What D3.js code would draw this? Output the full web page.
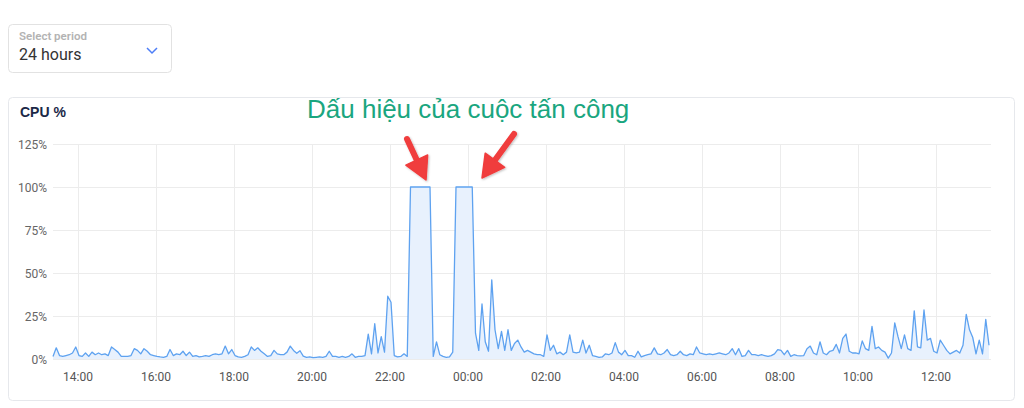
<!DOCTYPE html>
<html>
<head>
<meta charset="utf-8">
<script src="https://cdn.jsdelivr.net/npm/d3@7"></script>
<style>
  html, body { margin: 0; padding: 0; background: #fff; }
  svg { display: block; }
</style>
</head>
<body>
<svg id="chart" width="1024" height="408"></svg>
<script>
// ---- data ----
const startTime = "2024-01-01T13:21:30Z";   // first sample
const stepMinutes = 5;                        // sample interval
const cpuValues = [
  1.5, 6.5, 2, 1.5, 2, 2.5, 3.5, 7, 2, 1.5,
  3.5, 1.5, 4, 2.5, 3.5, 2.5, 3, 2, 7, 5.5,
  4, 1.5, 1.5, 1.5, 2, 6, 5, 3, 6, 4.5,
  2.5, 2, 1.5, 1.2, 1, 1.5, 5.5, 2, 3, 2.5,
  4.5, 2, 4, 1.5, 2, 1.2, 1.5, 2, 1.5, 2.5,
  3, 2.5, 3, 7.5, 3, 5.5, 2, 1.2, 1, 1.5,
  2.5, 7, 5, 6.5, 4.5, 3, 1.5, 2, 5, 3,
  2.5, 2.5, 4, 7.5, 5, 3.3, 4.8, 1.7, 1, 1.2,
  0.8, 1, 1.2, 1, 1.5, 4.5, 1.5, 1.5, 1, 1.5,
  1, 1.5, 3, 1, 1.5, 1.5, 2, 14.5, 3, 20.5,
  3.5, 13, 4, 36.5, 33, 2, 1.2, 1.5, 3, 1.5,
  100, 100, 100, 100, 100, 100, 100, 1.5, 10, 2.5,
  1.5, 1, 1.2, 4, 100, 100, 100, 100, 100, 100,
  15, 5, 32, 10, 4.5, 46, 17, 6, 16, 5,
  17, 5, 9, 11, 7, 4, 5, 4, 3, 2.5,
  2.5, 1.5, 14, 5, 8, 3, 4, 2.5, 4, 14,
  4, 3.5, 4, 11, 3.5, 8, 2, 1.5, 1, 1.2,
  3, 2.5, 3.5, 9.5, 4, 2.5, 5, 2, 2, 1,
  4.5, 1.2, 2, 2.5, 3, 6.5, 3, 2.5, 3.5, 5.5,
  2.5, 2, 2.5, 4.5, 2.5, 2, 3, 2.5, 7, 3.5,
  3, 2.5, 3, 2.5, 3, 3.5, 3, 2.5, 3.5, 6,
  2.5, 6, 1.5, 2, 5, 2.5, 2.5, 2, 2.5, 2,
  1.5, 2, 3, 5.5, 5, 2.5, 5, 1.5, 2.5, 2,
  1.8, 2, 6, 7.5, 3.5, 2.5, 10, 3.5, 2.5, 4.5,
  5, 8.5, 3.5, 12, 14.5, 4.5, 3.5, 3.5, 3, 10.5,
  6, 5, 19, 6, 7, 5, 4, 0.5, 3.5, 21,
  13, 6, 14, 6, 5, 28, 7, 6.5, 28.5, 11,
  12, 4.5, 3.5, 11, 8, 5, 3, 4, 5, 3.5,
  8, 26, 17, 12.5, 3, 11, 3, 23, 8
];
const yTicks = [0, 25, 50, 75, 100, 125];
const xTickLabels = ["14:00","16:00","18:00","20:00","22:00","00:00","02:00","04:00","06:00","08:00","10:00","12:00"];
const chartTitle = "CPU %";
const annotationText = "Dấu hiệu của cuộc tấn công";
const periodLabel = "Select period";
const periodValue = "24 hours";

// ---- build ----
const t0 = new Date(startTime);
const data = cpuValues.map((v, i) => ({ t: new Date(t0.getTime() + i * stepMinutes * 60000), v }));
const tEnd = new Date(t0.getTime() + 24 * 3600000);

const svg = d3.select("#chart");
const FONT = "Roboto, 'Open Sans', Arial, sans-serif";

// period selector
svg.append("rect").attr("x", 8.5).attr("y", 24.5).attr("width", 163).attr("height", 48)
  .attr("rx", 4).attr("fill", "#fff").attr("stroke", "#e2e2e2");
svg.append("text").attr("x", 19).attr("y", 39.5).text(periodLabel)
  .attr("font-family", FONT).attr("font-size", 11.5).attr("font-weight", 600).attr("fill", "#b3b3b3");
svg.append("text").attr("x", 19).attr("y", 60).text(periodValue)
  .attr("font-family", FONT).attr("font-size", 16).attr("fill", "#333");
svg.append("path").attr("d", "M147,48 L152,53 L157,48").attr("fill", "none")
  .attr("stroke", "#4d7ef7").attr("stroke-width", 1.5);

// card
svg.append("rect").attr("x", 8.5).attr("y", 97.5).attr("width", 1006).attr("height", 303)
  .attr("rx", 4).attr("fill", "#fff").attr("stroke", "#e6e8ec");
svg.append("text").attr("x", 20).attr("y", 117).text(chartTitle)
  .attr("font-family", "'Liberation Sans', Arial, sans-serif").attr("font-size", 14).attr("font-weight", 700).attr("fill", "#1b2847");

// scales
const x = d3.scaleUtc().domain([t0, tEnd]).range([53, 989]);
const y = d3.scaleLinear().domain([0, 125]).range([359, 144]);

const xTicks = x.ticks(d3.utcHour.every(2));

// grid
const g = svg.append("g");
g.selectAll(".hg").data(yTicks).join("line")
  .attr("x1", 53).attr("x2", 991).attr("y1", d => Math.round(y(d)) + 0.5).attr("y2", d => Math.round(y(d)) + 0.5)
  .attr("stroke", "#ececec");
g.selectAll(".vg").data(xTicks).join("line")
  .attr("x1", d => Math.round(x(d)) + 0.5).attr("x2", d => Math.round(x(d)) + 0.5)
  .attr("y1", 144).attr("y2", 359).attr("stroke", "#ececec");

// y labels
g.selectAll(".yl").data(yTicks).join("text")
  .attr("x", 47).attr("y", d => y(d) + 4.5).attr("text-anchor", "end")
  .attr("font-family", FONT).attr("font-size", 12).attr("fill", "#666")
  .text(d => d + "%");

// x labels
g.selectAll(".xl").data(xTicks).join("text")
  .attr("x", d => x(d)).attr("y", 381).attr("text-anchor", "middle")
  .attr("font-family", FONT).attr("font-size", 12).attr("fill", "#555")
  .text((d, i) => xTickLabels[i] !== undefined ? xTickLabels[i] : d3.utcFormat("%H:%M")(d));

// area + line
const area = d3.area().x(d => x(d.t)).y0(y(0)).y1(d => y(d.v));
const line = d3.line().x(d => x(d.t)).y(d => y(d.v));
svg.append("path").datum(data).attr("d", area).attr("fill", "#e8f1fd");
svg.append("path").datum(data).attr("d", line).attr("fill", "none")
  .attr("stroke", "#5ea2f0").attr("stroke-width", 1.3).attr("stroke-linejoin", "round");

// annotation
svg.append("text").attr("x", 307).attr("y", 118).text(annotationText)
  .attr("font-family", "'Liberation Sans', Arial, sans-serif").attr("font-size", 26).attr("fill", "#1aa67f");

// arrows
const defs = svg.append("defs");
defs.append("filter").attr("id", "sh").attr("x", "-50%").attr("y", "-50%").attr("width", "200%").attr("height", "200%")
  .append("feDropShadow").attr("dx", 1).attr("dy", 1).attr("stdDeviation", 1).attr("flood-color", "#000").attr("flood-opacity", 0.25);

function arrow(x1, y1, x2, y2) {
  const ang = Math.atan2(y2 - y1, x2 - x1);
  const headLen = 22, headW = 12;
  const bx = x2 - headLen * Math.cos(ang), by = y2 - headLen * Math.sin(ang);
  const px = -Math.sin(ang), py = Math.cos(ang);
  const ga = svg.append("g").attr("filter", "url(#sh)");
  ga.append("line").attr("x1", x1).attr("y1", y1).attr("x2", bx + 2 * Math.cos(ang)).attr("y2", by + 2 * Math.sin(ang))
    .attr("stroke", "#f03c3c").attr("stroke-width", 6).attr("stroke-linecap", "round");
  ga.append("path").attr("d", `M${x2},${y2} L${bx + px * headW},${by + py * headW} L${bx - px * headW},${by - py * headW} Z`)
    .attr("fill", "#f03c3c").attr("stroke", "#f03c3c").attr("stroke-width", 1.5).attr("stroke-linejoin", "round");
}
arrow(407, 139, 426, 180);
arrow(514, 134, 482, 178);
</script>
</body>
</html>
